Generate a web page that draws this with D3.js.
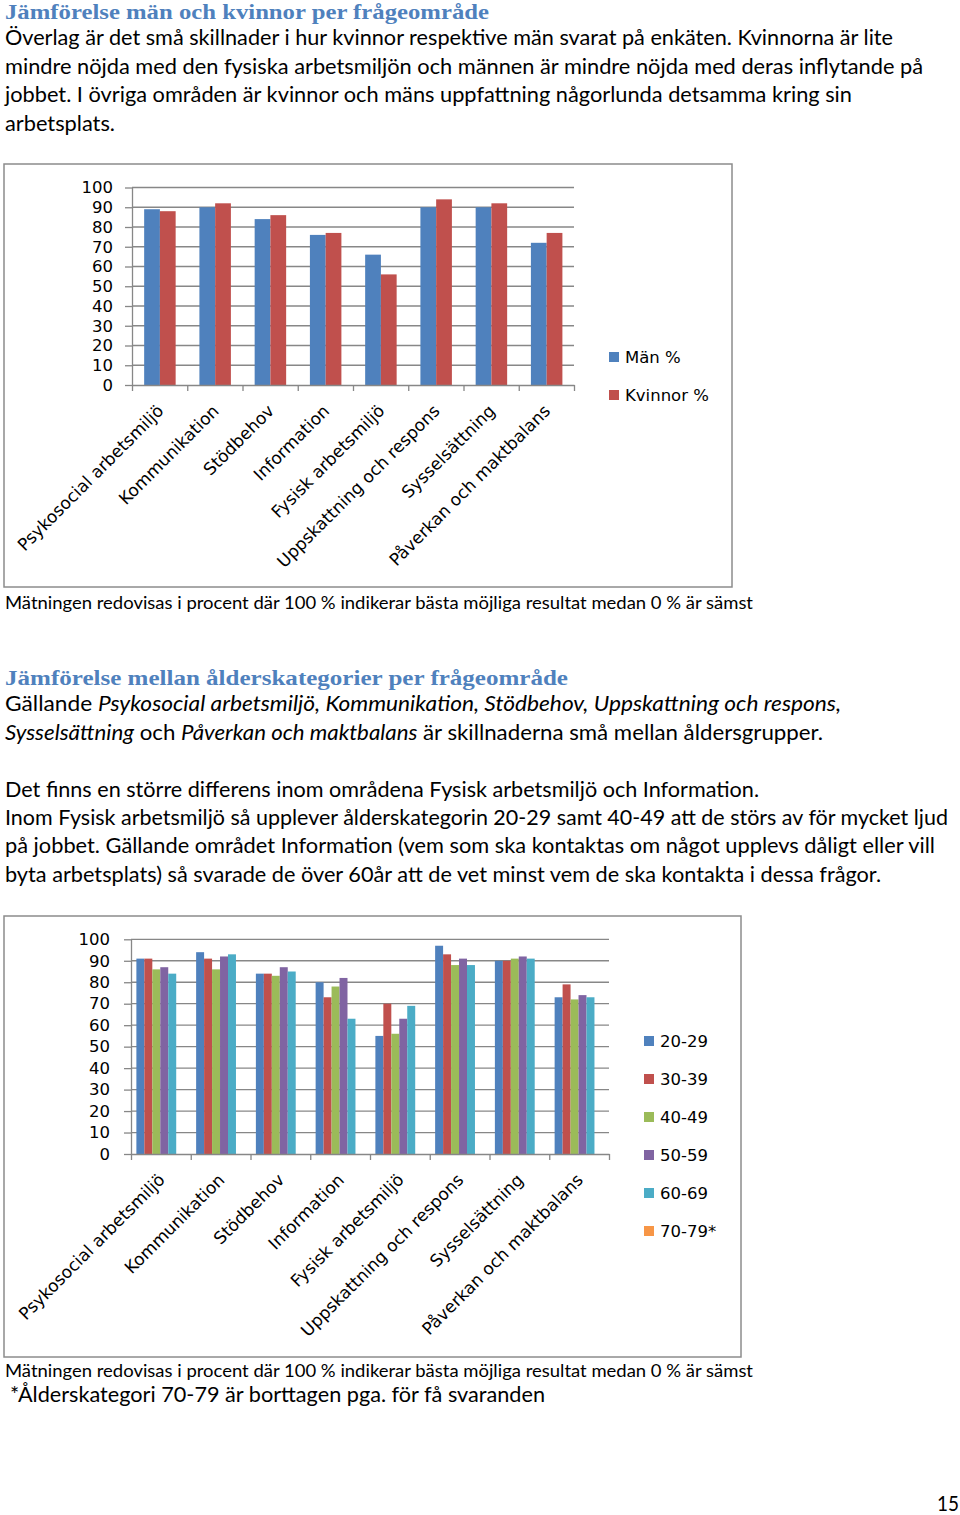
<!DOCTYPE html>
<html><head><meta charset="utf-8">
<script src="https://cdn.jsdelivr.net/npm/d3@7"></script>
<style>body{margin:0;background:#fff} svg{display:block} text{white-space:pre}</style>
</head><body>
<script>
// ---------- DATA ----------
const categories = ["Psykosocial arbetsmiljö","Kommunikation","Stödbehov","Information","Fysisk arbetsmiljö","Uppskattning och respons","Sysselsättning","Påverkan och maktbalans"];
const genderSeries = ["Män %","Kvinnor %"];
const menValues   = [89, 90, 84, 76, 66, 90, 90, 72];
const womenValues = [88, 92, 86, 77, 56, 94, 92, 77];
const ageSeries = ["20-29","30-39","40-49","50-59","60-69","70-79*"];
const age20_29 = [91, 94, 84, 80, 55, 97, 90, 73];
const age30_39 = [91, 91, 84, 73, 70, 93, 90, 79];
const age40_49 = [86, 86, 83, 78, 56, 88, 91, 72];
const age50_59 = [87, 92, 87, 82, 63, 91, 92, 74];
const age60_69 = [84, 93, 85, 63, 69, 88, 91, 73];
const age70_79 = [null, null, null, null, null, null, null, null]; // borttagen
const yTicks = [0,10,20,30,40,50,60,70,80,90,100];

// ---------- STYLE ----------
const W = 960, H = 1515;
const BODY_FONT = "Lato, 'Open Sans', sans-serif";
const CHART_FONT = "'DejaVu Sans', Verdana, sans-serif";
const TITLE_FONT = "'Liberation Serif', 'DejaVu Serif', serif";
const TITLE_COLOR = "#4f81bd";
const GRID = "#878787";
const genderColors = ["#4f81bd","#c0504d"];
const ageColors = ["#4f81bd","#c0504d","#9bbb59","#8064a2","#4bacc6","#f79646"];

const svg = d3.select("body").append("svg").attr("width", W).attr("height", H);
svg.append("rect").attr("width", W).attr("height", H).attr("fill", "#fff");

function textLine(x, y, parts, width, o) {
  const t = svg.append("text").attr("x", x).attr("y", y)
    .attr("font-family", o.font).attr("font-size", o.size)
    .attr("fill", o.color || "#000").attr("font-weight", o.bold ? "bold" : "normal");
  parts.forEach(p => {
    const s = typeof p === "string" ? {t: p} : p;
    t.append("tspan").attr("font-style", s.i ? "italic" : "normal").text(s.t);
  });
  if (width) t.attr("textLength", width).attr("lengthAdjust", "spacingAndGlyphs");
  return t;
}

const title = {font: TITLE_FONT, size: 22, bold: true, color: TITLE_COLOR};
const body = {font: BODY_FONT, size: 21};
const caption = {font: BODY_FONT, size: 17};

// ---------- TEXT ----------
textLine(5, 19, ["Jämförelse män och kvinnor per frågeområde"], 484, title);
textLine(5, 45, ["Överlag är det små skillnader i hur kvinnor respektive män svarat på enkäten. Kvinnorna är lite"], 888, body);
textLine(5, 74, ["mindre nöjda med den fysiska arbetsmiljön och männen är mindre nöjda med deras inflytande på"], 918, body);
textLine(5, 102, ["jobbet. I övriga områden är kvinnor och mäns uppfattning någorlunda detsamma kring sin"], 847, body);
textLine(5, 131, ["arbetsplats."], 110, body);
textLine(5, 609, ["Mätningen redovisas i procent där 100 % indikerar bästa möjliga resultat medan 0 % är sämst"], 748, caption);

textLine(5, 685, ["Jämförelse mellan ålderskategorier per frågeområde"], 563, title);
textLine(5, 711, ["Gällande ", {t: "Psykosocial arbetsmiljö, Kommunikation, Stödbehov, Uppskattning och respons,", i: true}], 836, body);
textLine(5, 740, [{t: "Sysselsättning", i: true}, " och ", {t: "Påverkan och maktbalans", i: true}, " är skillnaderna små mellan åldersgrupper."], 818, body);
textLine(5, 797, ["Det finns en större differens inom områdena Fysisk arbetsmiljö och Information."], 754, body);
textLine(5, 825, ["Inom Fysisk arbetsmiljö så upplever ålderskategorin 20-29 samt 40-49 att de störs av för mycket ljud"], 943, body);
textLine(5, 853, ["på jobbet. Gällande området Information (vem som ska kontaktas om något upplevs dåligt eller vill"], 930, body);
textLine(5, 882, ["byta arbetsplats) så svarade de över 60år att de vet minst vem de ska kontakta i dessa frågor."], 876, body);
textLine(5, 1377, ["Mätningen redovisas i procent där 100 % indikerar bästa möjliga resultat medan 0 % är sämst"], 748, caption);
textLine(10, 1402, ["*Ålderskategori 70-79 är borttagen pga. för få svaranden"], 535, body);
textLine(937, 1511, ["15"], 22, body);

// measure label font size so that the longest rotated label matches
const probe = svg.append("text").attr("font-family", CHART_FONT).attr("font-size", 14).text("Psykosocial arbetsmiljö");
const LABEL_SIZE = 14 * 198 / probe.node().getComputedTextLength();
probe.remove();

// ---------- CHART ----------
function drawChart(cfg) {
  const g = svg.append("g");
  g.append("rect").attr("x", cfg.frame[0]).attr("y", cfg.frame[1])
    .attr("width", cfg.frame[2] - cfg.frame[0]).attr("height", cfg.frame[3] - cfg.frame[1])
    .attr("fill", "#fff").attr("stroke", "#8c8c8c").attr("stroke-width", 1.5);

  const y = d3.scaleLinear().domain([0, 100]).range([cfg.y0, cfg.y100]);
  const x = d3.scaleBand().domain(categories).range([cfg.x0, cfg.x1]).padding(0);
  const bw = x.bandwidth();
  const xi = d3.scaleBand().domain(cfg.series).range([bw * cfg.gapL, bw * (1 - cfg.gapR)]).padding(0);

  // gridlines
  g.append("g").selectAll("line").data(yTicks.filter(d => d > 0)).join("line")
    .attr("x1", cfg.x0).attr("x2", cfg.x1).attr("y1", d => y(d)).attr("y2", d => y(d))
    .attr("stroke", GRID).attr("stroke-width", 1.3);

  // bars
  cfg.values.forEach((vals, si) => {
    g.append("g").selectAll("rect")
      .data(vals.map((v, i) => ({v, c: categories[i]})).filter(d => d.v != null))
      .join("rect")
      .attr("x", d => x(d.c) + xi(cfg.series[si]))
      .attr("width", xi.bandwidth())
      .attr("y", d => y(d.v))
      .attr("height", d => y(0) - y(d.v))
      .attr("fill", cfg.colors[si]);
  });

  // y axis
  const ya = g.append("g").attr("transform", `translate(${cfg.x0},0)`)
    .call(d3.axisLeft(y).tickValues(yTicks).tickSize(7).tickSizeOuter(0).tickPadding(cfg.tickPad));
  ya.selectAll("path,line").attr("stroke", GRID).attr("stroke-width", 1.3);
  ya.selectAll("text").attr("font-family", CHART_FONT).attr("font-size", 16.5).attr("fill", "#000");

  // x axis (ticks at category boundaries)
  const xb = d3.scaleLinear().domain([0, categories.length]).range([cfg.x0, cfg.x1]);
  const xa = g.append("g").attr("transform", `translate(0,${cfg.y0})`)
    .call(d3.axisBottom(xb).tickValues(d3.range(categories.length + 1)).tickSize(6).tickSizeOuter(0).tickFormat(""));
  xa.selectAll("path,line").attr("stroke", GRID).attr("stroke-width", 1.3);

  // rotated category labels
  g.append("g").selectAll("text").data(categories).join("text")
    .attr("transform", d => `translate(${x(d) + bw / 2 + 5},${cfg.y0 + 27}) rotate(-45)`)
    .attr("text-anchor", "end")
    .attr("font-family", CHART_FONT).attr("font-size", LABEL_SIZE).attr("fill", "#000")
    .text(d => d);

  // legend
  const lg = g.append("g").selectAll("g").data(cfg.series).join("g")
    .attr("transform", (d, i) => `translate(${cfg.legendX},${cfg.legendY + i * cfg.legendStep})`);
  lg.append("rect").attr("x", 0).attr("y", -5).attr("width", 10).attr("height", 10)
    .attr("fill", (d, i) => cfg.colors[i]);
  lg.append("text").attr("x", 16).attr("y", 0).attr("dy", "0.35em")
    .attr("font-family", CHART_FONT).attr("font-size", 16.5).attr("fill", "#000")
    .text(d => d);
}

drawChart({
  frame: [4, 164, 732, 587],
  x0: 132, x1: 574, y0: 385, y100: 187.5,
  series: genderSeries, values: [menValues, womenValues], colors: genderColors,
  gapL: 0.22, gapR: 0.21, tickPad: 12,
  legendX: 609, legendY: 357, legendStep: 38
});

drawChart({
  frame: [4, 916, 741, 1357],
  x0: 131, x1: 609, y0: 1154, y100: 939.3,
  series: ageSeries, values: [age20_29, age30_39, age40_49, age50_59, age60_69, age70_79], colors: ageColors,
  gapL: 0.09, gapR: 0.11, tickPad: 14,
  legendX: 644, legendY: 1041, legendStep: 38
});
</script>
</body></html>
